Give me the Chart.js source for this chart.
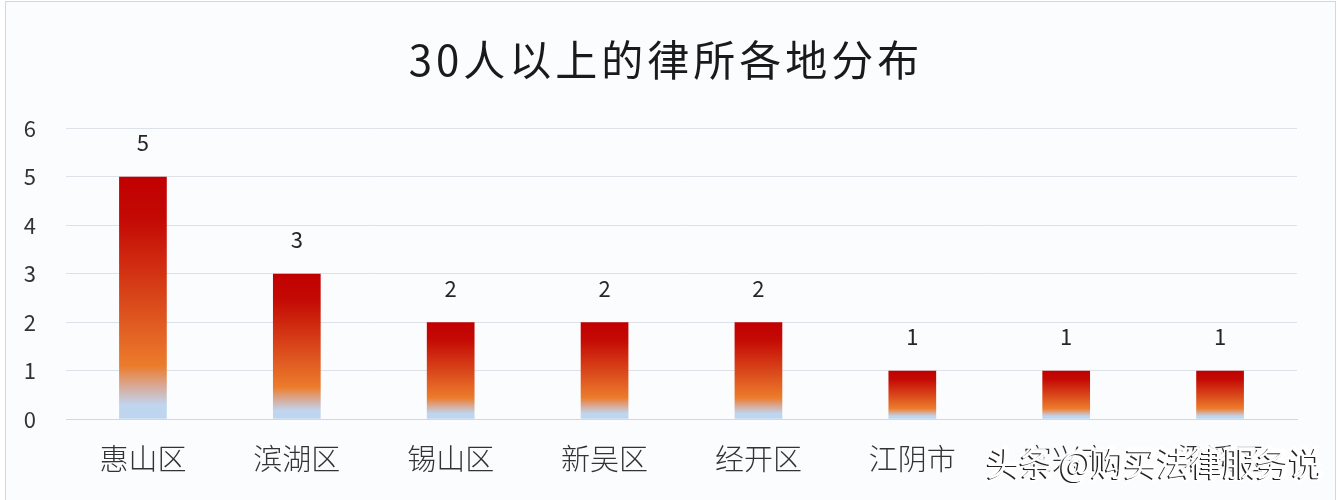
<!DOCTYPE html>
<html>
<head>
<meta charset="utf-8">
<script src="https://cdn.jsdelivr.net/npm/chart.js@4.4.1/dist/chart.umd.min.js"></script>
<style>
    html, body { margin: 0; padding: 0; background: #ffffff; }
    #frame {
        position: absolute; left: 5px; top: 1px; width: 1329px; height: 520px;
        border: 1px solid #d3d7de; background: #fbfcfe;
    }
    #wrap { position: absolute; left: 0; top: 0; width: 1340px; height: 500px; }
</style>
</head>
<body>
<div id="frame"></div>
<div id="wrap"><canvas id="barChart"></canvas></div>
<script>
const chartTitle = '30人以上的律所各地分布';
const districts = ['惠山区', '滨湖区', '锡山区', '新吴区', '经开区', '江阴市', '宜兴市', '梁溪区'];
const firmCounts = [5, 3, 2, 2, 2, 1, 1, 1];
const yTicks = [0, 1, 2, 3, 4, 5, 6];
const watermark = '头条 @购买法律服务说';

const cjkFont = "'Noto Sans CJK SC', 'Noto Sans', sans-serif";

// Gradient per bar: dark red on top, orange, pale blue at the foot
function barGradient(context) {
    const chart = context.chart;
    if (!chart.chartArea || context.parsed === undefined) return '#c00000';
    const y = chart.scales.y;
    const top = y.getPixelForValue(context.parsed.y);
    const bottom = y.getPixelForValue(0);
    const g = chart.ctx.createLinearGradient(0, top, 0, bottom);
    g.addColorStop(0, '#c00000');
    g.addColorStop(0.18, '#c40a04');
    g.addColorStop(0.5, '#d9461a');
    g.addColorStop(0.78, '#ec7c2c');
    g.addColorStop(0.87, '#d6ad9e');
    g.addColorStop(0.94, '#c0d5ee');
    g.addColorStop(1, '#bdd6f0');
    return g;
}

// Title drawn by hand so the letter spacing can match
const spacedTitle = {
    id: 'spacedTitle',
    afterDraw(chart) {
        const ctx = chart.ctx;
        ctx.save();
        ctx.fillStyle = '#1a1a1a';
        ctx.font = '42px ' + cjkFont;
        ctx.letterSpacing = '4px';
        ctx.textAlign = 'center';
        ctx.textBaseline = 'middle';
        ctx.fillText(chartTitle, 666, 60);
        ctx.restore();
    }
};

// Value labels over each bar
const valueLabels = {
    id: 'valueLabels',
    afterDatasetsDraw(chart) {
        const ctx = chart.ctx;
        const meta = chart.getDatasetMeta(0);
        ctx.save();
        ctx.fillStyle = '#262626';
        ctx.font = '22px ' + cjkFont;
        ctx.textAlign = 'center';
        ctx.textBaseline = 'middle';
        meta.data.forEach((bar, i) => {
            ctx.fillText(String(firmCounts[i]), bar.x, bar.y - 34);
        });
        ctx.restore();
    }
};

// Site watermark in the lower right corner (white text with a dark edge)
const watermarkText = {
    id: 'watermarkText',
    afterDraw(chart) {
        const ctx = chart.ctx;
        ctx.save();
        ctx.font = '33px ' + cjkFont;
        ctx.textAlign = 'right';
        ctx.textBaseline = 'middle';
        ctx.lineJoin = 'round';
        ctx.strokeStyle = 'rgba(255,255,255,0.9)';
        ctx.lineWidth = 5;
        ctx.strokeText(watermark, 1322, 463);
        ctx.fillStyle = '#222222';
        ctx.fillText(watermark, 1320.5, 464.5);
        ctx.fillStyle = '#ffffff';
        ctx.fillText(watermark, 1322, 463);
        ctx.restore();
    }
};

const barCtx = document.getElementById('barChart').getContext('2d');
new Chart(barCtx, {
    type: 'bar',
    data: {
        labels: districts,
        datasets: [{
            data: firmCounts,
            backgroundColor: barGradient,
            borderWidth: 0,
            categoryPercentage: 1,
            barPercentage: 0.31
        }]
    },
    options: {
        responsive: true,
        maintainAspectRatio: false,
        animation: false,
        layout: { padding: { top: 33, left: 16, right: 43, bottom: 10 } },
        plugins: {
            legend: { display: false },
            tooltip: { enabled: false },
            title: {
                // kept only for layout; the visible title is drawn by spacedTitle
                display: true,
                text: chartTitle,
                color: 'rgba(0,0,0,0)',
                font: { family: cjkFont, size: 42, weight: 'normal' },
                padding: { top: 0, bottom: 45 }
            }
        },
        scales: {
            x: {
                grid: { display: false },
                border: { color: '#d3d8e0' },
                ticks: {
                    color: '#333333',
                    padding: 14,
                    font: { family: cjkFont, size: 29, weight: 300 }
                }
            },
            y: {
                min: 0,
                max: 6,
                afterBuildTicks(axis) {
                    axis.ticks = yTicks.map(v => ({ value: v }));
                },
                afterFit(axis) {
                    axis.width = 50;
                },
                grid: { color: '#dde1e8', drawTicks: false },
                border: { display: false },
                ticks: {
                    color: '#333333',
                    padding: 30,
                    font: { family: cjkFont, size: 22 }
                }
            }
        }
    },
    plugins: [spacedTitle, valueLabels, watermarkText]
});
</script>
</body>
</html>
